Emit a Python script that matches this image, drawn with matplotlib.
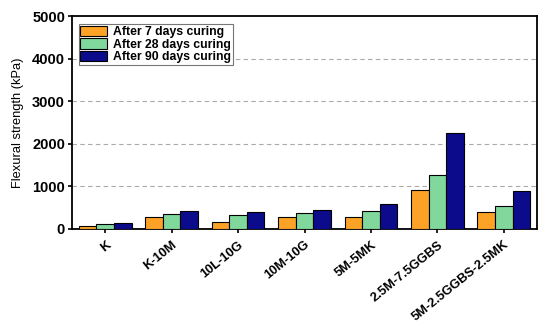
import matplotlib
matplotlib.use("Agg")
import matplotlib.pyplot as plt
import numpy as np

categories = ["K", "K-10M", "10L-10G", "10M-10G", "5M-5MK", "2.5M-7.5GGBS", "5M-2.5GGBS-2.5MK"]
day7 = [80, 290, 170, 275, 275, 915, 390]
day28 = [125, 360, 320, 385, 430, 1270, 540]
day90 = [130, 420, 390, 440, 585, 2260, 900]
series_labels = ["After 7 days curing", "After 28 days curing", "After 90 days curing"]
colors = ["#FBA227", "#80D89C", "#0B0B8C"]

plt.rcParams['font.family'] = ['Liberation Sans', 'DejaVu Sans']

fig = plt.figure(figsize=(5.5, 3.32), dpi=100)
ax = fig.add_axes([72/550, 1-229/332, (537-72)/550, (229-16)/332])

x = np.arange(len(categories))
w = 0.265
for i, (vals, lab, c) in enumerate(zip([day7, day28, day90], series_labels, colors)):
    ax.bar(x + (i-1)*w, vals, width=w, color=c, edgecolor="black", linewidth=0.8, label=lab, zorder=3)

ax.set_xlim(-0.5, len(categories)-0.5)
ax.set_ylim(0, 5000)
ax.set_yticks([0, 1000, 2000, 3000, 4000, 5000])
for yv in [1000, 2000, 3000, 4000]:
    ax.axhline(yv, color="#aaaaaa", linestyle=(0, (4, 3)), linewidth=0.8, zorder=1)
ax.set_xticks(x)
ax.set_xticklabels(categories, rotation=39, ha="right", rotation_mode="anchor", fontweight="bold", fontsize=9.3)
for lbl in ax.get_yticklabels():
    lbl.set_fontweight("bold")
    lbl.set_fontsize(10.5)
ax.tick_params(axis="both", direction="out", length=3, width=1.2, pad=2)
ax.tick_params(axis="x", pad=4)
for s in ax.spines.values():
    s.set_linewidth(1.3)
ax.set_ylabel("Flexural strength (kPa)", fontsize=9.3, labelpad=6)

leg = ax.legend(loc="upper left", bbox_to_anchor=(0.014, 0.962), prop={"weight": "bold", "size": 8.8},
                frameon=True, fancybox=False, edgecolor="#777777", framealpha=1,
                handlelength=2.2, handleheight=0.9, labelspacing=0.02, borderpad=0.15,
                handletextpad=0.5, borderaxespad=0)
leg.get_frame().set_linewidth(0.8)

fig.savefig("out.png", dpi=100)
